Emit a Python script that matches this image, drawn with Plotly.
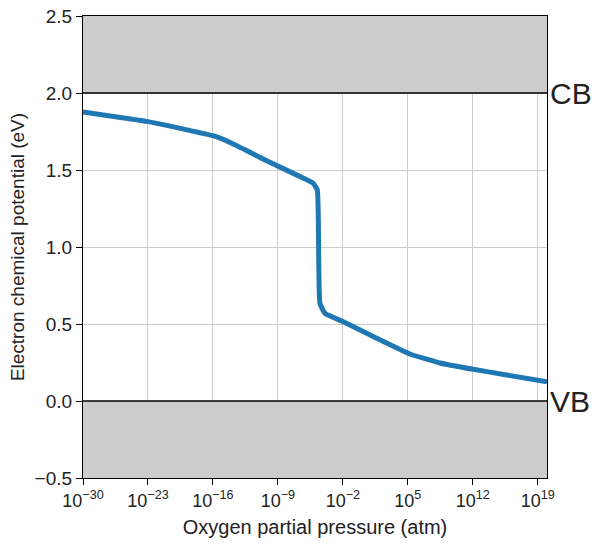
import plotly.graph_objects as go

# Data
log_po2 = [-30.0, -23.0, -17.4, -15.9, -13.8, -10.2, -6.6, -5.2, -4.75, -4.47, -3.92, -1.95, 1.65, 5.23, 8.46, 12.05, 15.64, 20.0]
mu_e =    [1.877, 1.814, 1.742, 1.721, 1.669, 1.560, 1.457, 1.414, 1.370, 0.634, 0.569, 0.515, 0.407, 0.305, 0.247, 0.206, 0.169, 0.125]
po2 = [10 ** v for v in log_po2]

x_tick_exps = [-30, -23, -16, -9, -2, 5, 12, 19]
x_tick_vals = [10 ** e for e in x_tick_exps]
x_tick_text = ["10<sup>%s</sup>" % (str(e).replace("-", "\u2212")) for e in x_tick_exps]
y_tick_vals = [-0.5, 0.0, 0.5, 1.0, 1.5, 2.0, 2.5]

cbm, vbm = 2.0, 0.0
y_min, y_max = -0.5, 2.5

fig = go.Figure()
fig.add_trace(go.Scatter(x=po2, y=mu_e, mode="lines",
                         line=dict(color="#1f77b4", width=5, shape="spline", smoothing=0.4),
                         showlegend=False))

fig.add_shape(type="rect", xref="paper", yref="y", x0=0, x1=1, y0=cbm, y1=y_max,
              fillcolor="rgba(0,0,0,0.2)", line=dict(width=0), layer="between")
fig.add_shape(type="rect", xref="paper", yref="y", x0=0, x1=1, y0=y_min, y1=vbm,
              fillcolor="rgba(0,0,0,0.2)", line=dict(width=0), layer="between")
for yv in (cbm, vbm):
    fig.add_shape(type="line", xref="paper", yref="y", x0=0, x1=1, y0=yv, y1=yv,
                  line=dict(color="black", width=1.5), layer="above")

fig.add_annotation(x=1, y=cbm, xref="paper", yref="y", text="CB", showarrow=False,
                   xanchor="left", yanchor="middle", xshift=1, font=dict(size=30, color="#222"))
fig.add_annotation(x=1, y=vbm, xref="paper", yref="y", text="VB", showarrow=False,
                   xanchor="left", yanchor="middle", xshift=1, font=dict(size=30, color="#222"))

fig.update_layout(
    width=602, height=551,
    margin=dict(l=83, r=55, t=16, b=73),
    plot_bgcolor="white", paper_bgcolor="white",
    font=dict(family="Liberation Sans, Arial, sans-serif", color="#222", size=19),
)
fig.update_xaxes(type="log", range=[-30, 20], tickvals=x_tick_vals, ticktext=x_tick_text,
                 showgrid=True, gridcolor="#cccccc", gridwidth=1,
                 showline=True, linecolor="black", linewidth=1.2, mirror=True,
                 ticks="outside", ticklen=6, tickcolor="black", automargin=False,
                 title=dict(text="Oxygen partial pressure (atm)", font=dict(size=20), standoff=10),
                 zeroline=False, tickfont=dict(size=18))
fig.update_yaxes(range=[y_min, y_max], tickvals=y_tick_vals, tickformat=".1f",
                 showgrid=True, gridcolor="#cccccc", gridwidth=1,
                 showline=True, linecolor="black", linewidth=1.2, mirror=True,
                 ticks="outside", ticklen=6, tickcolor="black", automargin=False,
                 title=dict(text="Electron chemical potential (eV)", font=dict(size=19), standoff=4),
                 zeroline=False, tickfont=dict(size=19))

fig.write_html("out.html")
